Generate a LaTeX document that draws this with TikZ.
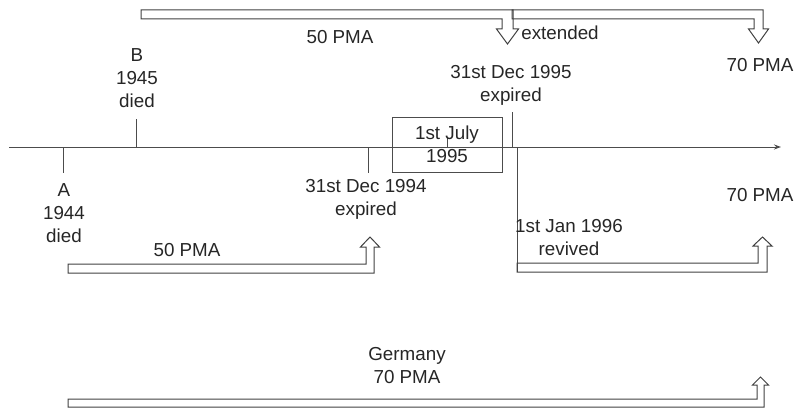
\documentclass[tikz,border=0pt]{standalone}
\usepackage{fontspec}
\setmainfont{Liberation Sans}
\usetikzlibrary{arrows.meta}
\begin{document}
\begin{tikzpicture}[x=1pt,y=-1pt,
  lbl/.style={align=center,inner sep=0pt,font=\fontsize{18.8}{23}\selectfont,text=black!85},
  ln/.style={draw=black!70,line width=1pt},
  bent/.style={draw=black!75,line width=1pt,line join=miter}]
\useasboundingbox (0,0) rectangle (794,409);
% timeline
\coordinate (axL) at (9,147);
\coordinate (axR) at (781,147);
\draw[ln,-{Stealth[length=7pt,width=5pt]}] (axL) -- (axR);
% ticks
\coordinate (tA) at (63,147);   \coordinate (tAe) at (63,173);
\coordinate (tB) at (136,147);  \coordinate (tBe) at (136,119);
\coordinate (t94) at (368,147); \coordinate (t94e) at (368,173);
\coordinate (t95) at (512,147); \coordinate (t95e) at (512,112);
\coordinate (tJ) at (447,147);  \coordinate (tJe) at (447,138);
\coordinate (t96) at (517,147); \coordinate (t96e) at (517,272);
\draw[ln] (tA) -- (tAe);
\draw[ln] (tB) -- (tBe);
\draw[ln] (t94) -- (t94e);
\draw[ln] (t95) -- (t95e);
\draw[ln] (tJ) -- (tJe);
\draw[ln] (t96) -- (t96e);
% box
\node[lbl,draw=black!70,line width=1pt,minimum width=110pt,minimum height=55pt] (july) at (447,144.5) {1st July\\1995};
% labels
\node[lbl] (A) at (64,213) {A\\1944\\died};
\node[lbl] (B) at (137,78) {B\\1945\\died};
\node[lbl] (d94) at (366,199) {31st Dec 1994\\expired};
\node[lbl] (d95) at (511,85) {31st Dec 1995\\expired};
\node[lbl] (j96) at (569,238) {1st Jan 1996\\revived};
\node[lbl] (p70r) at (760,195) {70 PMA};
\node[lbl] (p70t) at (760,65) {70 PMA};
\node[lbl] (p50t) at (340,37) {50 PMA};
\node[lbl] (ext) at (560,33) {extended};
\node[lbl] (p50b) at (187,250) {50 PMA};
\node[lbl] (ger) at (407,366) {Germany\\70 PMA};
% bent arrows
\draw[bent] (141,10) -- (513,10) -- (513,29) -- (518.5,29) -- (507.5,44) -- (496.5,29) -- (502,29) -- (502,19) -- (141,19) -- cycle;
\draw[bent] (512,10) -- (763,10) -- (763,29) -- (768.5,29) -- (758.5,43) -- (748.5,29) -- (754,29) -- (754,19) -- (512,19) -- cycle;
\draw[bent] (68,273) -- (374,273) -- (374,247) -- (379.5,247) -- (370,237) -- (360.5,247) -- (366,247) -- (366,264) -- (68,264) -- cycle;
\draw[bent] (517,272) -- (767,272) -- (767,246) -- (772,246) -- (762.5,237) -- (753,246) -- (758,246) -- (758,263) -- (517,263) -- cycle;
\draw[bent] (68,407) -- (764,407) -- (764,385) -- (768.5,385) -- (760.5,377) -- (752.5,385) -- (757,385) -- (757,399) -- (68,399) -- cycle;
\end{tikzpicture}
\end{document}
